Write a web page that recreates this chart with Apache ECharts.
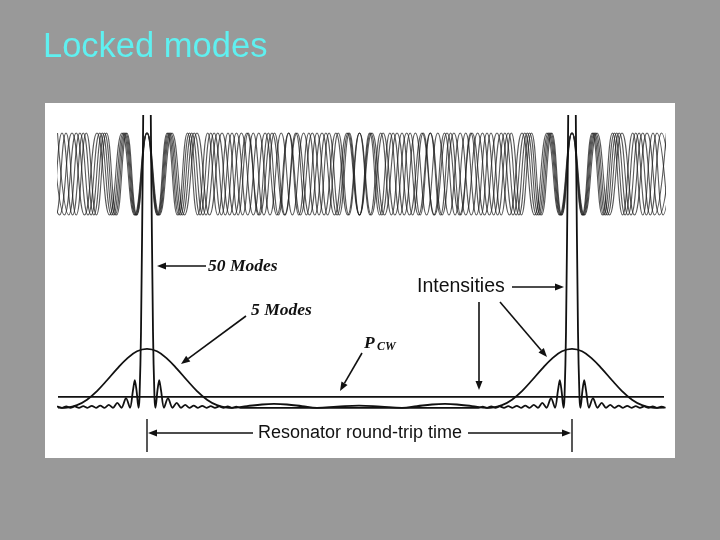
<!DOCTYPE html>
<html>
<head>
<meta charset="utf-8">
<script src="https://cdn.jsdelivr.net/npm/echarts@6/dist/echarts.min.js"></script>
<style>
  html, body { margin: 0; padding: 0; background: #999999; }
  #main { width: 720px; height: 540px; }
</style>
</head>
<body>
<div id="main"></div>
<script>
// time axis in scan units, the two pulses sit at these times
var pulseCenters = [147, 572];

// field of the modes: positions of crests and troughs, first entry is a crest
var field1 = [47, 59.5, 72, 84.5, 97, 109.5, 122, 134.5, 147, 159.5, 172, 184.5, 197, 209.5, 222, 234.5, 247, 259.5, 272, 284.5, 297, 309.5, 322, 334.5, 347, 359.5, 372, 384.5, 397, 409.5, 422, 434.5, 447, 459.5, 472, 484.5, 497, 509.5, 522, 534.5, 547, 559.5, 572, 584.5, 597, 609.5, 622, 634.5, 647, 659.5, 672];
var field2 = [52.6, 64.4, 76.2, 88.0, 99.8, 111.6, 123.4, 135.2, 147, 158.8, 170.6, 182.4, 194.2, 206.0, 217.8, 229.6, 241.4, 253.3, 265.1, 276.9, 288.7, 300.5, 312.3, 324.1, 335.9, 347.7, 359.5, 371.3, 383.1, 394.9, 406.7, 418.5, 430.3, 442.1, 453.9, 465.8, 477.6, 489.4, 501.2, 513.0, 524.8, 536.6, 548.4, 560.2, 572.0, 583.8, 595.6, 607.4, 619.2, 631.0, 642.8, 654.6, 666.4];
var field3 = [57.5, 68.7, 79.9, 91.1, 102.3, 113.4, 124.6, 135.8, 147, 158.2, 169.4, 180.6, 191.7, 202.9, 214.1, 225.3, 236.5, 247.7, 258.8, 270.0, 281.2, 292.4, 303.6, 314.8, 325.9, 337.1, 348.3, 359.5, 370.7, 381.9, 393.1, 404.2, 415.4, 426.6, 437.8, 449.0, 460.2, 471.3, 482.5, 493.7, 504.9, 516.1, 527.3, 538.4, 549.6, 560.8, 572.0, 583.2, 594.4, 605.6, 616.7, 627.9, 639.1, 650.3, 661.5, 672.7];
var field4 = [40.75, 51.4, 62.0, 72.6, 83.25, 93.9, 104.5, 115.1, 125.75, 136.4, 147, 157.6, 168.25, 178.9, 189.5, 200.1, 210.75, 221.4, 232.0, 242.6, 253.25, 263.9, 274.5, 285.1, 295.75, 306.4, 317.0, 327.6, 338.25, 348.9, 359.5, 370.1, 380.75, 391.4, 402.0, 412.6, 423.25, 433.9, 444.5, 455.1, 465.75, 476.4, 487.0, 497.6, 508.25, 518.9, 529.5, 540.1, 550.75, 561.4, 572.0, 582.6, 593.25, 603.9, 614.5, 625.1, 635.75, 646.4, 657.0, 667.6];
var field5 = [45.8, 55.9, 66.0, 76.2, 86.3, 96.4, 106.5, 116.6, 126.8, 136.9, 147, 157.1, 167.2, 177.4, 187.5, 197.6, 207.7, 217.8, 228.0, 238.1, 248.2, 258.3, 268.4, 278.5, 288.7, 298.8, 308.9, 319.0, 329.1, 339.3, 349.4, 359.5, 369.6, 379.7, 389.9, 400.0, 410.1, 420.2, 430.3, 440.5, 450.6, 460.7, 470.8, 480.9, 491.0, 501.2, 511.3, 521.4, 531.5, 541.6, 551.8, 561.9, 572.0, 582.1, 592.2, 602.4, 612.5, 622.6, 632.7, 642.8, 653.0, 663.1, 673.2];
var fieldModes = [field1, field2, field3, field4, field5];

// intensity, in units of P_cw
var cwLevel = 1;

// 5 locked modes
var fiveX = [58, 62, 67, 77, 87, 97, 107, 117, 127, 137, 147, 157, 167, 177, 187, 197, 207, 217, 227, 232, 247, 262, 274, 287, 302, 317, 337, 359, 381, 402, 417, 432, 445, 457, 472, 487, 492, 502, 512, 522, 532, 542, 552, 562, 572, 582, 592, 602, 612, 622, 632, 642, 652, 657, 664];
var fiveI = [0.01, 0, 0.02, 0.24, 0.74, 1.52, 2.5, 3.54, 4.47, 5.13, 5.35, 5.13, 4.47, 3.54, 2.5, 1.52, 0.74, 0.24, 0.02, 0, 0.15, 0.3, 0.35, 0.3, 0.15, 0, 0.1, 0.2, 0.1, 0, 0.15, 0.3, 0.35, 0.3, 0.15, 0, 0.02, 0.24, 0.74, 1.52, 2.5, 3.54, 4.47, 5.13, 5.35, 5.13, 4.47, 3.54, 2.5, 1.52, 0.74, 0.24, 0.02, 0, 0.01];

// 50 locked modes, one pulse, offsets from the pulse centre
var fiftyDx = [-93.5, -89.25, -85, -80.75, -76.5, -72.25, -68, -63.75, -59.5, -55.25, -51, -46.75, -42.5, -38.25, -34, -29.75, -25.5, -21, -17, -14, -12.2, -10.5, -8.5, -7.5, -6, -4, -2, 0, 2, 4, 6, 7.5, 8.5, 10.5, 12.2, 14, 17, 21, 25.5, 29.75, 34, 38.25, 42.5, 46.75, 51, 55.25, 59.5, 63.75, 68, 72.25, 76.5, 80.75, 85, 89.25, 93.5];
var fiftyI = [0, 0.1, 0, 0.12, 0, 0.13, 0, 0.15, 0, 0.18, 0, 0.2, 0, 0.27, 0, 0.45, 0, 0.88, 0, 1.6, 2.52, 1.6, 0, 0.9, 6.9, 24.3, 44.4, 53.5, 44.4, 24.3, 6.9, 0.9, 0, 1.6, 2.52, 1.6, 0, 0.88, 0, 0.45, 0, 0.27, 0, 0.2, 0, 0.18, 0, 0.15, 0, 0.13, 0, 0.12, 0, 0.1, 0];

var ink = '#111111';
var serif = '"Liberation Serif", "Times New Roman", serif';
var sans = '"Liberation Sans", Arial, sans-serif';

function arrow(x1, y1, x2, y2) {
   var a = Math.atan2(y2 - y1, x2 - x1);
   var L = 9, W = 3.5;
   var bx = x2 - L * Math.cos(a), by = y2 - L * Math.sin(a);
   return [
      { type: 'line', shape: { x1: x1, y1: y1, x2: bx, y2: by }, style: { stroke: ink, lineWidth: 1.6 } },
      {
         type: 'polygon',
         shape: { points: [[x2, y2], [bx - W * Math.sin(a), by + W * Math.cos(a)], [bx + W * Math.sin(a), by - W * Math.cos(a)]] },
         style: { fill: ink }
      }
   ];
}

function label(x, y, text, font, align) {
   return {
      type: 'text',
      style: { x: x, y: y, text: text, font: font, fill: ink, textAlign: align || 'left', textVerticalAlign: 'middle' }
   };
}

let series = [];

fieldModes.forEach(function(xs) {
   series.push({
      type: 'line',
      xAxisIndex: 0,
      yAxisIndex: 0,
      smooth: true,
      showSymbol: false,
      data: xs.map(function(x, i) { return [x, i % 2 === 0 ? 1 : -1]; }),
      lineStyle: { color: '#222', width: 1.1, opacity: 0.75 }
   });
});

let fifty = [];
pulseCenters.forEach(function(c) {
   fiftyDx.forEach(function(dx, i) { fifty.push([c + dx, fiftyI[i]]); });
});

series.push({
   type: 'line',
   xAxisIndex: 1,
   yAxisIndex: 1,
   showSymbol: false,
   data: [[58, cwLevel], [664, cwLevel]],
   lineStyle: { color: ink, width: 1.8 }
});
series.push({
   type: 'line',
   xAxisIndex: 1,
   yAxisIndex: 1,
   smooth: 0.4,
   showSymbol: false,
   data: fiveX.map(function(x, i) { return [x, fiveI[i]]; }),
   lineStyle: { color: ink, width: 1.8 }
});
series.push({
   type: 'line',
   xAxisIndex: 1,
   yAxisIndex: 1,
   smooth: 0.3,
   showSymbol: false,
   data: fifty,
   lineStyle: { color: ink, width: 1.8 }
});

let graphics = [
   { type: 'rect', z: -10, shape: { x: 45, y: 103, width: 630, height: 355 }, style: { fill: '#ffffff' } }
];
graphics = graphics
   .concat(arrow(206, 266, 157, 266))
   .concat([label(208, 266, '50 Modes', 'italic bold 17.5px ' + serif)])
   .concat(arrow(246, 316, 181, 364))
   .concat([label(251, 310, '5 Modes', 'italic bold 17.5px ' + serif)])
   .concat(arrow(362, 353, 340, 391))
   .concat([label(364, 343, 'P', 'italic bold 17.5px ' + serif), label(377, 347, 'CW', 'italic bold 12px ' + serif)])
   .concat([label(417, 287, 'Intensities', '19.5px ' + sans)])
   .concat(arrow(512, 287, 564, 287))
   .concat(arrow(479, 302, 479, 390))
   .concat(arrow(500, 302, 547, 357))
   .concat([label(258, 433, 'Resonator round-trip time', '18px ' + sans)])
   .concat(arrow(253, 433, 148, 433))
   .concat(arrow(468, 433, 571, 433))
   .concat([
      { type: 'line', shape: { x1: 147, y1: 419, x2: 147, y2: 452 }, style: { stroke: ink, lineWidth: 1.4 } },
      { type: 'line', shape: { x1: 572, y1: 419, x2: 572, y2: 452 }, style: { stroke: ink, lineWidth: 1.4 } }
   ]);

let option = {
   backgroundColor: '#999999',
   animation: false,
   title: {
      text: 'Locked modes',
      left: 43,
      top: 30,
      padding: 0,
      textStyle: { color: '#5ff0f0', fontSize: 34.5, fontWeight: 'normal', fontFamily: sans }
   },
   grid: [
      { left: 58, right: 56, top: 131, height: 86 },
      { left: 58, right: 56, top: 116, bottom: 130 }
   ],
   xAxis: [
      { type: 'value', gridIndex: 0, min: 58, max: 664, show: false },
      { type: 'value', gridIndex: 1, min: 58, max: 664, show: false }
   ],
   yAxis: [
      { type: 'value', gridIndex: 0, min: -1.05, max: 1.05, show: false },
      { type: 'value', gridIndex: 1, min: -0.2, max: 26.5, show: false }
   ],
   graphic: graphics,
   series: series
};

let myChart = echarts.init(document.getElementById('main'));
myChart.setOption(option);
</script>
</body>
</html>
